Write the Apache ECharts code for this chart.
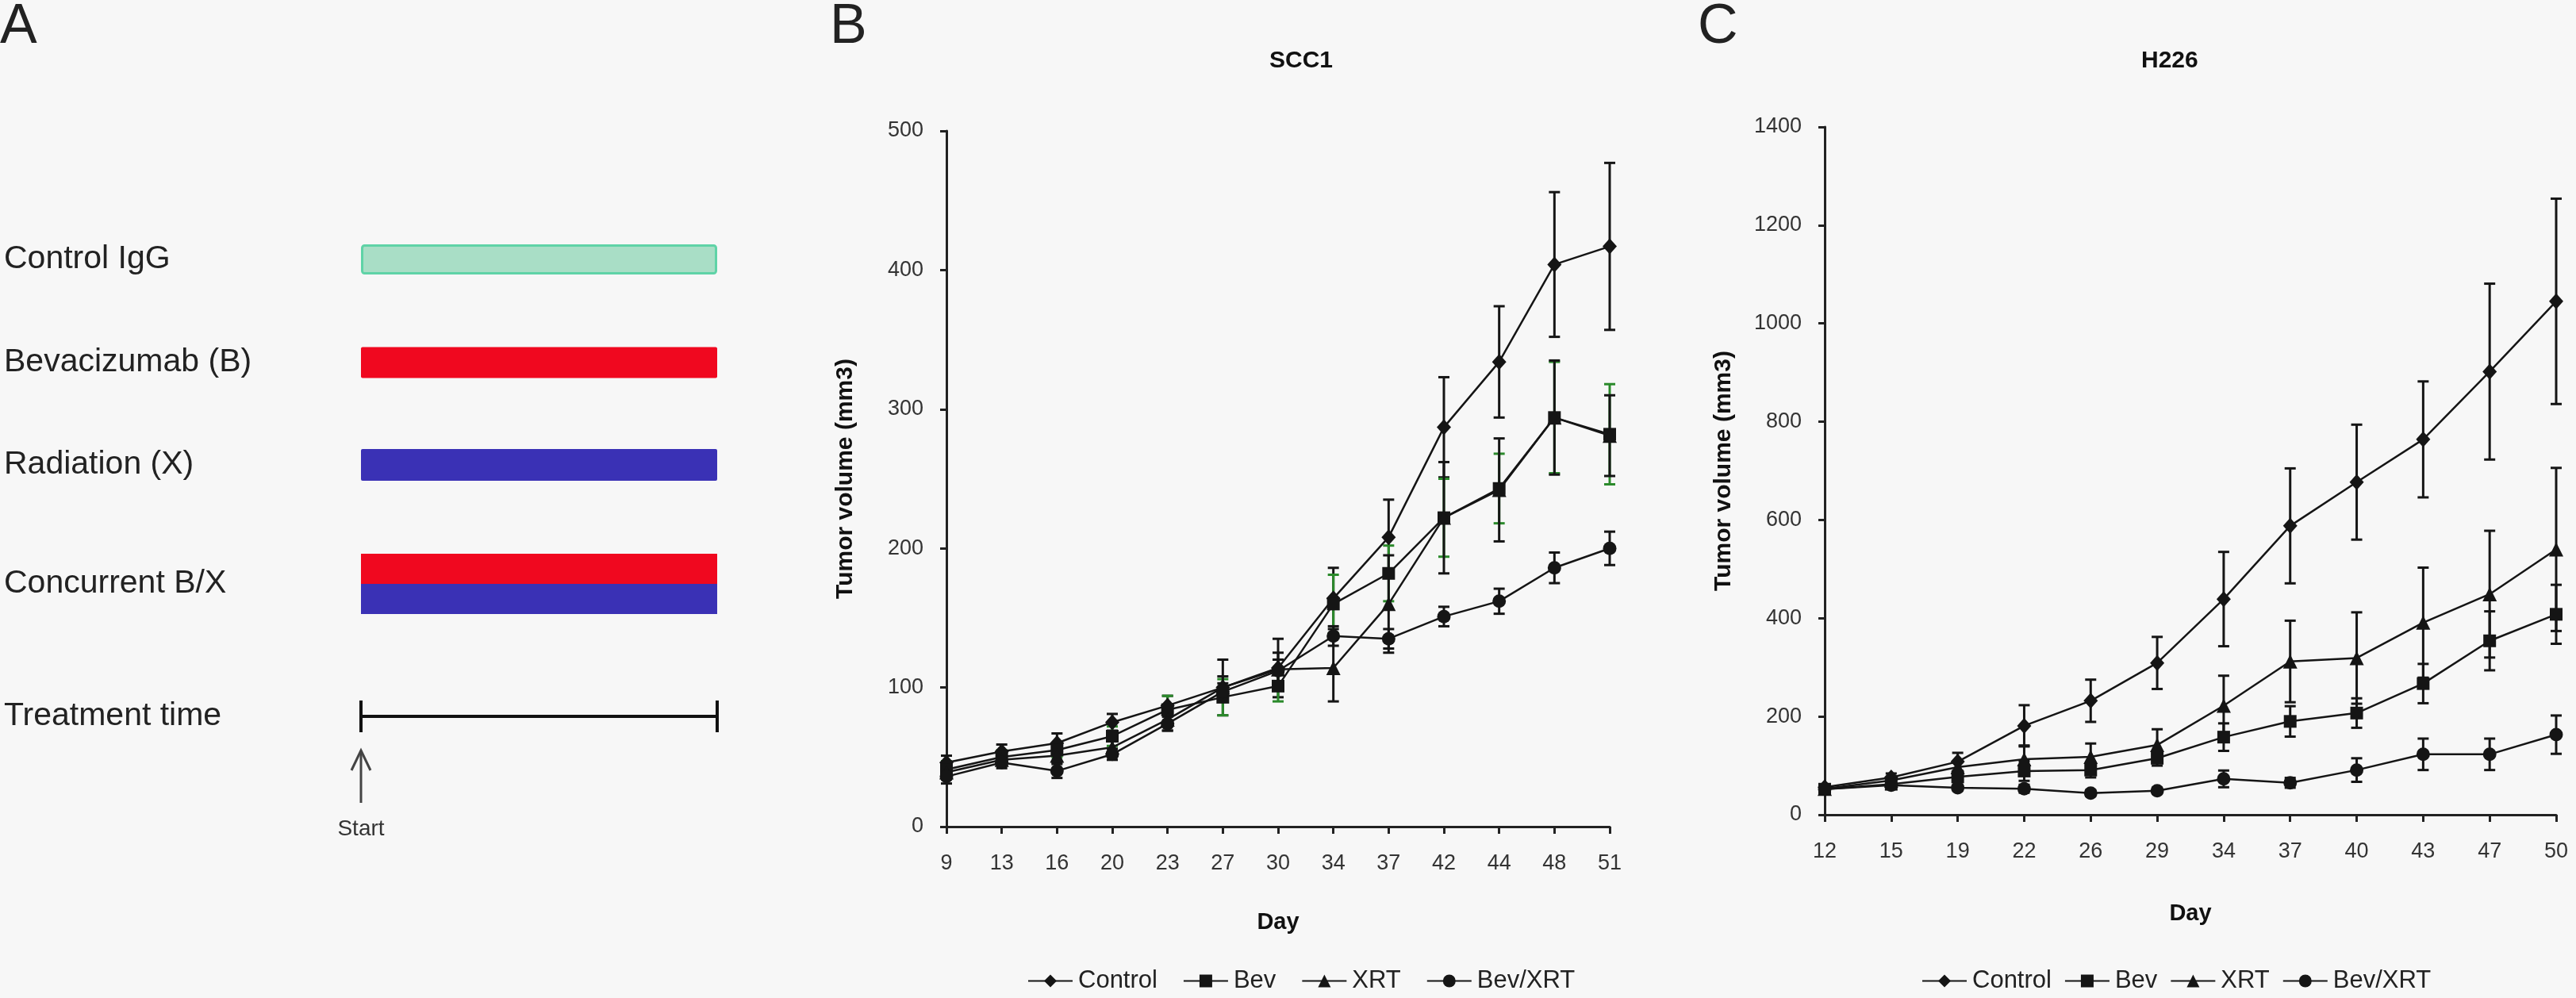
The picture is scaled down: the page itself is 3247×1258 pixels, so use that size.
<!DOCTYPE html>
<html><head><meta charset="utf-8">
<script src="https://cdn.jsdelivr.net/npm/echarts@6/dist/echarts.min.js"></script>
<style>html,body{margin:0;padding:0;background:#f7f7f7;}#c{width:3247px;height:1258px;}</style>
</head><body><div id="c"></div>
<script>
// ---------- Panel A (schematic) ----------
const treatments = ['Control IgG', 'Bevacizumab (B)', 'Radiation (X)', 'Concurrent B/X'];
const timelineLabel = 'Treatment time';
const startLabel = 'Start';
const treatmentSpan = [0, 1];

// ---------- Shared ----------
const groups = ['Control', 'Bev', 'XRT', 'Bev/XRT'];

// ---------- Panel B: SCC1 ----------
const daysB = ['9', '13', '16', '20', '23', '27', '30', '34', '37', '42', '44', '48', '51'];
const controlB = [46, 54, 60, 75, 87, 100, 114, 164, 208, 287, 334, 404, 417];
const controlBErr = [5, 5, 7, 6, 7, 20, 21, 22, 27, 36, 40, 52, 60];
const bevB = [41, 50, 55, 65, 84, 93, 101, 160, 182, 222, 243, 294, 282];
const bevBErr = [6, 5, 5, 7, 10, 13, 11, 21, 20, 28, 25, 40, 36];
const xrtB = [39, 48, 51, 57, 77, 100, 113, 114, 160, 222, 242, 294, 281];
const xrtBErr = [5, 4, 5, 5, 8, 8, 12, 24, 35, 40, 37, 41, 29];
const bevXrtB = [36, 46, 40, 52, 74, 97, 112, 137, 135, 151, 162, 186, 200];
const bevXrtBErr = [5, 4, 5, 4, 5, 6, 8, 7, 7, 7, 9, 11, 12];

// ---------- Panel C: H226 ----------
const daysC = ['12', '15', '19', '22', '26', '29', '34', '37', '40', '43', '47', '50'];
const controlC = [56, 76, 108, 181, 232, 309, 439, 588, 677, 764, 902, 1045];
const controlCErr = [6, 8, 18, 42, 43, 53, 96, 117, 117, 118, 179, 209];
const bevC = [52, 62, 77, 89, 91, 115, 158, 190, 207, 267, 354, 408];
const bevCErr = [5, 6, 10, 20, 15, 15, 28, 31, 30, 40, 60, 60];
const xrtC = [53, 70, 97, 113, 118, 142, 222, 312, 319, 391, 449, 540];
const xrtCErr = [5, 7, 10, 28, 27, 32, 61, 83, 93, 112, 129, 166];
const bevXrtC = [52, 60, 55, 53, 44, 49, 73, 65, 91, 123, 123, 163];
const bevXrtCErr = [5, 5, 6, 8, 6, 6, 17, 10, 24, 32, 32, 39];

const FONT = '"Liberation Sans", Arial, Helvetica, sans-serif';
const INK = '#151515';
const GREEN = '#2b8a2b';

const chart = echarts.init(document.getElementById('c'), null, {renderer: 'canvas'});

// ----- Panel A layout -----
const rowCenters = [327, 457, 586, 736, 903];
const rowLabels = treatments.concat([timelineLabel]);
const aLeft = 455, aWidth = 449, rowH = 80;

const grids = [], xAxes = [], yAxes = [], series = [];
rowLabels.forEach((lab, i) => {
  grids.push({left: aLeft, width: aWidth, top: rowCenters[i] - rowH / 2, height: rowH});
  xAxes.push({gridIndex: i, type: 'value', min: treatmentSpan[0], max: treatmentSpan[1], show: false});
  yAxes.push({gridIndex: i, type: 'category', data: [lab],
    axisLine: {show: false}, axisTick: {show: false},
    axisLabel: {align: 'left', margin: aLeft - 5, fontSize: 41, color: '#222', fontFamily: FONT}});
});
// bars
series.push({type: 'bar', xAxisIndex: 0, yAxisIndex: 0, data: [treatmentSpan[1]], barWidth: 38,
  itemStyle: {color: '#a9dec6', borderColor: '#5fd3a7', borderWidth: 3, borderRadius: 3}, silent: true});
series.push({type: 'bar', xAxisIndex: 1, yAxisIndex: 1, data: [treatmentSpan[1]], barWidth: 39,
  itemStyle: {color: '#f0081f', borderRadius: 2}, silent: true});
series.push({type: 'bar', xAxisIndex: 2, yAxisIndex: 2, data: [treatmentSpan[1]], barWidth: 40,
  itemStyle: {color: '#3a31b5', borderRadius: 2}, silent: true});
series.push({type: 'bar', xAxisIndex: 3, yAxisIndex: 3, data: [treatmentSpan[1]], barWidth: 38, barGap: '0%',
  itemStyle: {color: '#f0081f'}, silent: true});
series.push({type: 'bar', xAxisIndex: 3, yAxisIndex: 3, data: [treatmentSpan[1]], barWidth: 38, barGap: '0%',
  itemStyle: {color: '#3a31b5'}, silent: true});
// timeline
series.push({type: 'custom', xAxisIndex: 4, yAxisIndex: 4, silent: true,
  data: [[treatmentSpan[0], treatmentSpan[1]]],
  renderItem: (params, api) => {
    const p0 = api.coord([api.value(0), 0]);
    const p1 = api.coord([api.value(1), 0]);
    const st = {stroke: '#111', lineWidth: 4};
    return {type: 'group', children: [
      {type: 'line', shape: {x1: p0[0], y1: p0[1], x2: p1[0], y2: p1[1]}, style: st},
      {type: 'line', shape: {x1: p0[0], y1: p0[1] - 20, x2: p0[0], y2: p0[1] + 20}, style: st},
      {type: 'line', shape: {x1: p1[0], y1: p1[1] - 20, x2: p1[0], y2: p1[1] + 20}, style: st},
      {type: 'line', shape: {x1: p0[0], y1: p0[1] + 43, x2: p0[0], y2: p0[1] + 109}, style: {stroke: '#444', lineWidth: 3}},
      {type: 'polyline', shape: {points: [[p0[0] - 12, p0[1] + 68], [p0[0], p0[1] + 43], [p0[0] + 12, p0[1] + 68]]}, style: {stroke: '#444', lineWidth: 3, fill: null}},
      {type: 'text', x: p0[0], y: p0[1] + 142, style: {text: startLabel, fontSize: 28, fontFamily: FONT, fill: '#333', align: 'center', verticalAlign: 'middle'}}
    ]};
  }});

// ----- Charts B and C -----
function addChart(gi, grid, days, yMax, yInt, sets, nameGapX, greenIdx) {
  grids.push(grid);
  xAxes.push({gridIndex: gi, type: 'category', data: days, boundaryGap: false,
    name: 'Day', nameLocation: 'middle', nameGap: nameGapX,
    nameTextStyle: {fontSize: 29, fontWeight: 'bold', color: '#111', fontFamily: FONT},
    axisLine: {lineStyle: {color: '#222', width: 3}},
    axisTick: {length: 9, lineStyle: {color: '#222', width: 3}},
    axisLabel: {margin: 33, fontSize: 27, color: '#333', fontFamily: FONT},
    splitLine: {show: false}});
  yAxes.push({gridIndex: gi, type: 'value', min: 0, max: yMax, interval: yInt,
    name: 'Tumor volume (mm3)', nameLocation: 'middle', nameRotate: 90, nameGap: 112,
    nameTextStyle: {fontSize: 30, fontWeight: 'bold', color: '#111', fontFamily: FONT},
    axisLine: {show: true, lineStyle: {color: '#222', width: 3}},
    axisTick: {show: true, length: 8, lineStyle: {color: '#222', width: 3}},
    axisLabel: {margin: 29, fontSize: 27, color: '#333', fontFamily: FONT, formatter: (v) => String(v)},
    splitLine: {show: false}});
  const symbols = ['diamond', 'rect', 'triangle', 'circle'];
  const sizes = [[18, 20], 16, 18, 17];
  sets.forEach((s, k) => {
    const color = (k === greenIdx) ? GREEN : INK;
    series.push({type: 'custom', name: groups[k] + ' error', xAxisIndex: gi, yAxisIndex: gi, silent: true, z: 1,
      data: s[0].map((m, i) => [i, m - s[1][i], m + s[1][i]]),
      renderItem: (params, api) => {
        const lo = api.coord([api.value(0), api.value(1)]);
        const hi = api.coord([api.value(0), api.value(2)]);
        const w = 7, st = {stroke: color, lineWidth: 3};
        return {type: 'group', children: [
          {type: 'line', shape: {x1: lo[0], y1: lo[1], x2: hi[0], y2: hi[1]}, style: st},
          {type: 'line', shape: {x1: lo[0] - w, y1: lo[1], x2: lo[0] + w, y2: lo[1]}, style: st},
          {type: 'line', shape: {x1: hi[0] - w, y1: hi[1], x2: hi[0] + w, y2: hi[1]}, style: st}
        ]};
      }});
  });
  sets.forEach((s, k) => {
    series.push({type: 'line', name: groups[k], xAxisIndex: gi, yAxisIndex: gi, data: s[0],
      symbol: symbols[k], symbolSize: sizes[k], showAllSymbol: true,
      lineStyle: {color: INK, width: 2.5}, itemStyle: {color: INK, borderWidth: 0}, z: 3, silent: true});
  });
}
addChart(5, {left: 1193, top: 165, width: 836, height: 877}, daysB, 500, 100,
  [[controlB, controlBErr], [bevB, bevBErr], [xrtB, xrtBErr], [bevXrtB, bevXrtBErr]], 106, 1);
addChart(6, {left: 2300, top: 160, width: 922, height: 867}, daysC, 1400, 200,
  [[controlC, controlCErr], [bevC, bevCErr], [xrtC, xrtCErr], [bevXrtC, bevXrtCErr]], 110, -1);

const titleStyle = {fontSize: 70, fontWeight: 'normal', color: '#222', fontFamily: FONT};
const subStyle = {fontSize: 30, fontWeight: 'bold', color: '#111', fontFamily: FONT};
const legendBase = {data: groups, top: 1221, itemWidth: 56, itemHeight: 20, padding: 0, itemGap: 32,
  textStyle: {fontSize: 31, color: '#222', fontFamily: FONT, padding: [0, 0, 0, 2]}, selectedMode: false};

chart.setOption({
  backgroundColor: '#f7f7f7',
  animation: false,
  title: [
    {text: 'A', left: 0, top: 0, padding: 0, textStyle: titleStyle},
    {text: 'B', left: 1046, top: 0, padding: 0, textStyle: titleStyle},
    {text: 'C', left: 2140, top: 0, padding: 0, textStyle: titleStyle},
    {text: 'SCC1', left: 1600, top: 62, padding: 0, textStyle: subStyle},
    {text: 'H226', left: 2699, top: 62, padding: 0, textStyle: subStyle}
  ],
  legend: [
    Object.assign({}, legendBase, {left: 1295}),
    Object.assign({}, legendBase, {left: 2422, itemGap: 16})
  ],
  grid: grids,
  xAxis: xAxes,
  yAxis: yAxes,
  series: series
});
</script></body></html>
